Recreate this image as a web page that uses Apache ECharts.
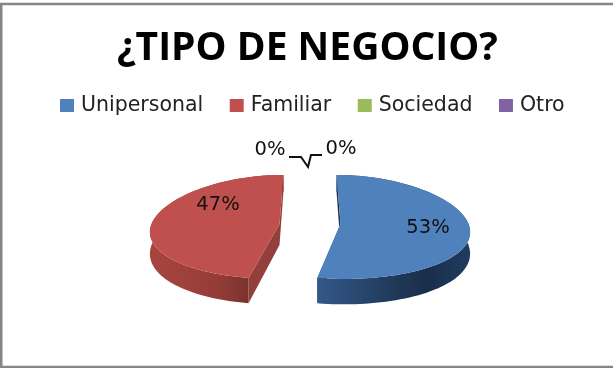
<!DOCTYPE html>
<html><head><meta charset="utf-8">
<style>html,body{margin:0;padding:0;background:#fff}#c{width:613px;height:368px}</style>
<script src="https://cdn.jsdelivr.net/npm/echarts@6/dist/echarts.min.js"></script>
</head><body><div id="c"></div>
<script>
var categories = ['Unipersonal', 'Familiar', 'Sociedad', 'Otro'];
var values = [53, 47, 0, 0];
var colors = ['#4f81bd', '#c0504d', '#9bbb59', '#8064a2'];
var titleText = '¿TIPO DE NEGOCIO?';

var total = values.reduce(function (a, b) { return a + b; }, 0);
var CX = 310, CY = 224, RX = 128, RY = 52, EXPLODE = 30.5, DEPTH = 21;
var sideStops = [
  [{o:0,c:'#33598a'},{o:0.45,c:'#223c5e'},{o:0.72,c:'#1a2e4a'},{o:1,c:'#213c5f'}],
  [{o:0,c:'#a8453f'},{o:0.5,c:'#953c38'},{o:0.75,c:'#7a312d'},{o:1,c:'#7a312d'}]
];
var cutFill = ['#1a2e4a', '#93403c'];
var labelPos = [[428, 228], [218, 205], [270, 150], [341, 149]];

function project(ox, r, th, d) {
  var X = ox + r * RX * Math.sin(th), Y = -r * RY * Math.cos(th);
  return [CX + X * (1 + 0.0025 * Y), CY + Y * (1 + 0.0011 * Y) + d * (1 + 0.004 * Y)];
}
function startOf(i) {
  var s = 0;
  for (var k = 0; k < i; k++) s += values[k];
  return s / total * Math.PI * 2;
}
function makeItem(i) {
  return function (params, api) {
    var v = api.value(0), color = api.visual('color'), kids = [];
    if (v > 0) {
      var a0 = startOf(i), a1 = a0 + v / total * Math.PI * 2, mid = (a0 + a1) / 2;
      var ox = (Math.sin(mid) >= 0 ? 1 : -1) * EXPLODE;
      var n = 90, top = [], bottom = [];
      for (var j = 0; j <= n; j++) {
        var t = a0 + (a1 - a0) * j / n;
        top.push(project(ox, 1, t, 0));
        bottom.push(project(ox, 1, t, DEPTH));
      }
      var apex = project(ox, 0, 0, 0), apexB = project(ox, 0, 0, DEPTH);
      var stops = sideStops[i].map(function (s) { return {offset: s.o, color: s.c}; });
      kids.push({type: 'polygon', shape: {points: [top[0], apex, top[n], bottom[n], apexB, bottom[0]]},
        style: {fill: cutFill[i]}, silent: true});
      kids.push({type: 'polygon', shape: {points: top.concat(bottom.slice().reverse())},
        style: {fill: {type: 'linear', x: 0, y: 0, x2: 1, y2: 0, colorStops: stops}}, silent: true});
      kids.push({type: 'polygon', shape: {points: [apex].concat(top)}, style: {fill: color}, silent: true});
    } else if (i === 2) {
      kids.push({type: 'polyline', silent: true,
        shape: {points: [[289, 157], [301, 157], [308, 167], [311, 155], [322, 155]]},
        style: {stroke: '#111', lineWidth: 2, fill: null}});
    }
    kids.push({type: 'text', silent: true, x: labelPos[i][0], y: labelPos[i][1],
      style: {text: Math.round(v / total * 100) + '%', fill: '#111',
        font: '19.5px "DejaVu Sans"', align: 'center', verticalAlign: 'middle'}});
    return {type: 'group', children: kids};
  };
}

var chart = echarts.init(document.getElementById('c'), null, {renderer: 'canvas'});
chart.setOption({
  animation: false,
  backgroundColor: '#fff',
  color: colors,
  title: {text: titleText, left: 117, top: 29, padding: 0,
    textStyle: {fontFamily: 'Open Sans', fontWeight: 'bold', fontSize: 39, color: '#000'}},
  legend: {data: categories, left: 60, top: 95, padding: 0, itemWidth: 14, itemHeight: 13, itemGap: 26.5,
    selectedMode: false, icon: 'rect',
    textStyle: {fontFamily: 'DejaVu Sans', fontSize: 20.5, color: '#222', padding: [0, 0, 0, 2]}},
  graphic: [{type: 'rect', silent: true, z: 100,
    shape: {x: 1.25, y: 4, width: 640, height: 363},
    style: {fill: null, stroke: '#868686', lineWidth: 2.5}}],
  series: categories.map(function (name, i) {
    return {type: 'custom', name: name, coordinateSystem: 'none',
      data: [[values[i]]], renderItem: makeItem(i), silent: true};
  })
});
</script></body></html>
